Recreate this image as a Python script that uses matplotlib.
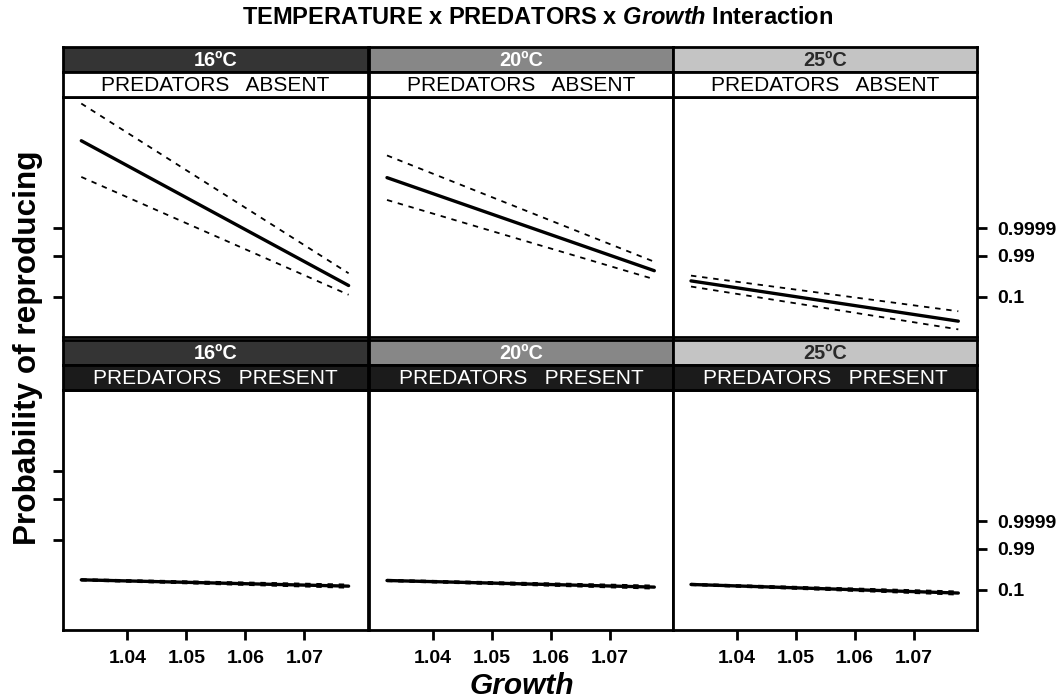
import numpy as np
import matplotlib
matplotlib.use('Agg')
import matplotlib.pyplot as plt

plt.rcParams['font.family'] = ['Liberation Sans', 'DejaVu Sans']
plt.rcParams['mathtext.fontset'] = 'custom'
plt.rcParams['mathtext.it'] = 'Liberation Sans:bold:italic'
plt.rcParams['mathtext.rm'] = 'Liberation Sans:bold'
plt.rcParams['mathtext.bf'] = 'Liberation Sans:bold'

# ---------------- data ----------------
temperatures = ['16ºC', '20ºC', '25ºC']
predator_levels = ['PREDATORS   ABSENT', 'PREDATORS   PRESENT']
growth_ends = [1.0322, 1.0775]          # growth range covered by the fitted lines

# linear predictor (logit scale) at the two ends of the growth range
fit_absent = [[23.8, -0.33], [17.65, 2.14], [0.44, -6.27]]
upper_absent = [[30.0, 1.71], [21.35, 3.63], [1.32, -4.62]]
lower_absent = [[17.77, -1.87], [13.93, 0.72], [-0.50, -7.64]]

fit_present = [[-0.55, -1.60], [-0.66, -1.76], [-1.32, -2.75]]
upper_present = [[-0.43, -1.33], [-0.54, -1.50], [-1.20, -2.48]]
lower_present = [[-0.67, -1.87], [-0.78, -2.02], [-1.44, -3.02]]

prob_ticks = [0.1, 0.99, 0.9999]
prob_labels = ['0.1', '0.99', '0.9999']
growth_ticks = [1.04, 1.05, 1.06, 1.07]
growth_labels = ['1.04', '1.05', '1.06', '1.07']
left_tick_shift_present = 8.3   # left-hand ticks of the lower row sit higher in the original

strip_temp_colors = ['#343434', '#878787', '#c4c4c4']
strip_temp_text = ['white', 'white', '#2a2a2a']
strip_pred_colors = ['white', '#1b1b1b']
strip_pred_text = ['black', 'white']

W, H = 1064, 699
fig = plt.figure(figsize=(W / 100, H / 100), dpi=100)

def logit(p):
    p = np.asarray(p, dtype=float)
    return np.log(p / (1 - p))

xlim = (1.0291, 1.0807)
ylim = (-8.91, 31.09)

col_x = [63, 368.7, 672.7]
col_w = 304.5
rows = [  # (panel_top, panel_bottom, strip1_top, strip_mid)
    (97, 337, 47, 72),
    (390, 630, 339.5, 364.7),
]

def fx(px):
    return px / W

def fy(py):
    return 1 - py / H

lw_spine = 2.0
for r, (ptop, pbot, s1, smid) in enumerate(rows):
    fits = fit_absent if r == 0 else fit_present
    ups = upper_absent if r == 0 else upper_present
    los = lower_absent if r == 0 else lower_present
    for c in range(3):
        ax = fig.add_axes([fx(col_x[c]), fy(pbot), fx(col_w), (pbot - ptop) / H])
        ax.plot(growth_ends, fits[c], color='black', lw=2.4, solid_capstyle='round', zorder=3)
        ax.plot(growth_ends, ups[c], color='black', lw=1.3, ls=(0, (3, 3.2)), zorder=2)
        ax.plot(growth_ends, los[c], color='black', lw=1.3, ls=(0, (3, 3.2)), zorder=2)
        ax.set_xlim(*xlim)
        ax.set_ylim(*ylim)
        for s in ax.spines.values():
            s.set_linewidth(lw_spine)
        # y ticks
        if c == 0:
            shift = 0 if r == 0 else left_tick_shift_present
            ax.set_yticks(logit(prob_ticks) + shift)
            ax.tick_params(axis='y', left=True, right=False, labelleft=False,
                           length=7.5, width=2.0, direction='out')
        elif c == 2:
            ax.set_yticks(logit(prob_ticks))
            ax.set_yticklabels(prob_labels)
            ax.tick_params(axis='y', left=False, right=True, labelleft=False, labelright=True,
                           length=7.5, width=2.0, direction='out', pad=7, labelsize=14)
            for lab in ax.get_yticklabels():
                lab.set_fontweight('bold')
        else:
            ax.set_yticks([])
        # x ticks
        if r == 1:
            ax.set_xticks(growth_ticks)
            ax.set_xticklabels(growth_labels)
            ax.tick_params(axis='x', bottom=True, length=7.5, width=2.0, direction='out',
                           pad=7, labelsize=14)
            for lab in ax.get_xticklabels():
                lab.set_fontweight('bold')
        else:
            ax.set_xticks([])

        # strips
        for k, (top, bot, color, tcolor, text, weight) in enumerate([
            (s1, smid, strip_temp_colors[c], strip_temp_text[c], temperatures[c], 'bold'),
            (smid, ptop, strip_pred_colors[r], strip_pred_text[r], predator_levels[r], 'normal'),
        ]):
            sax = fig.add_axes([fx(col_x[c]), fy(bot), fx(col_w), (bot - top) / H])
            sax.set_facecolor(color)
            sax.set_xticks([])
            sax.set_yticks([])
            for s in sax.spines.values():
                s.set_linewidth(lw_spine)
            sax.text(0.5, 0.45, text, transform=sax.transAxes, ha='center', va='center',
                     color=tcolor, fontsize=14.3 if k == 0 else 15, fontweight=weight)

fig.text(fx(538), fy(18), r'TEMPERATURE x PREDATORS x $Growth$ Interaction',
         ha='center', va='center', fontsize=17, fontweight='bold')
fig.text(fx(28), fy(348), 'Probability of reproducing', rotation=90,
         ha='center', va='center', fontsize=22.7, fontweight='bold')
fig.text(fx(522), fy(694), 'Growth', ha='center', va='baseline', fontsize=21.5,
         fontweight='bold', fontstyle='italic')

fig.savefig('out.png', dpi=100)
